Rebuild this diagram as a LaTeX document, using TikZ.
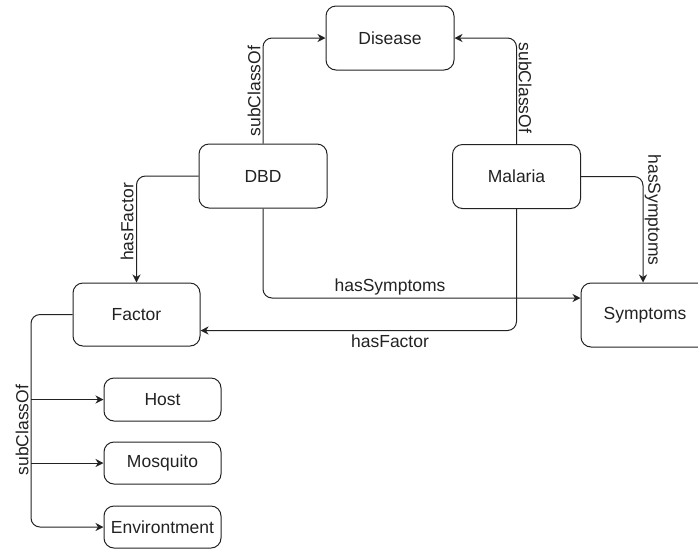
\documentclass[tikz,border=0pt]{standalone}
\usepackage{fontspec}
\setmainfont{Liberation Sans}
\usetikzlibrary{arrows.meta}
\definecolor{ink}{HTML}{222222}
\begin{document}
\begin{tikzpicture}[x=1pt,y=-1pt,
  box/.style={draw=ink,line width=1pt,rounded corners=10pt,minimum width=128pt,minimum height=64pt,inner sep=0pt,text=ink,font=\fontsize{17.5}{20}\selectfont},
  smallbox/.style={box,minimum width=117pt,minimum height=42pt},
  conn/.style={draw=ink,line width=1pt,rounded corners=9pt,-{Stealth[length=8pt,width=8pt,inset=2.5pt]}},
  lab/.style={text=ink,inner sep=1pt,font=\fontsize{17.5}{20}\selectfont}]
\useasboundingbox (0,0) rectangle (698,550);
\node[box] (disease) at (390,38) {Disease};
\node[box] (dbd) at (263,176) {DBD};
\node[box] (malaria) at (516.5,176.5) {Malaria};
\node[box] (symptoms) at (645,315) {Symptoms};
\node[box,minimum width=127pt,minimum height=63pt] (factor) at (136.5,314.5) {Factor};
\node[smallbox,minimum height=43pt] (host) at (162.5,399.5) {Host};
\node[smallbox] (mosquito) at (162.5,463) {Mosquito};
\node[smallbox] (env) at (162.5,527) {Environtment};

\draw[conn] (dbd.north) |- (disease.west);
\draw[conn] (malaria.north) |- (disease.east);
\draw[conn] (dbd.west) -| (factor.north);
\draw[conn] (malaria.east) -| ([xshift=-2pt]symptoms.north);
\draw[conn] (dbd.south) |- ([yshift=17pt]symptoms.west);
\draw[conn] (malaria.south) |- ([yshift=-16pt]factor.east);

\coordinate (fx) at (31,314.5);
\draw[conn] (factor.west) -- (fx) |- (env.west);
\draw[conn] (fx |- host.west) -- (host.west);
\draw[conn] (fx |- mosquito.west) -- (mosquito.west);

\node[lab,rotate=90] (l1) at (254,91) {subClassOf};
\node[lab,rotate=-90] (l2) at (525,88) {subClassOf};
\node[lab,rotate=90] (l3) at (127,222) {hasFactor};
\node[lab,rotate=-90] (l4) at (653,210) {hasSymptoms};
\node[lab] (l5) at (390,287) {hasSymptoms};
\node[lab] (l6) at (390,341) {hasFactor};
\node[lab,rotate=90] (l7) at (22,430) {subClassOf};
\end{tikzpicture}
\end{document}
